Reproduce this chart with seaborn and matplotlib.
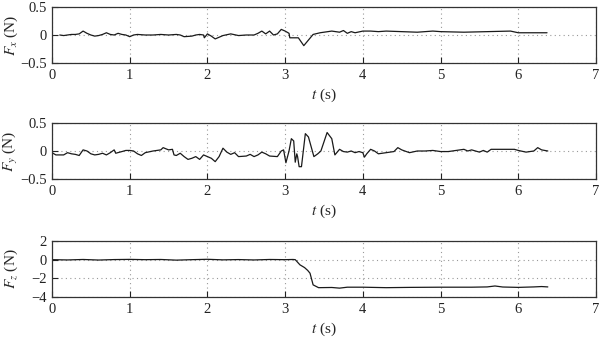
import numpy as np
import pandas as pd
import matplotlib
matplotlib.use("Agg")
import matplotlib.pyplot as plt
import seaborn as sns

# ---------------- data ----------------
t_fx = [0.10, 0.15, 0.20, 0.25, 0.30, 0.35, 0.40, 0.45, 0.50, 0.55, 0.60, 0.65, 0.70, 0.75,
        0.80, 0.85, 0.90, 0.95, 1.00, 1.05, 1.10, 1.20, 1.30, 1.40, 1.50, 1.60, 1.65, 1.70,
        1.80, 1.85, 1.90, 1.95, 1.96, 2.00, 2.05, 2.10, 2.15, 2.20, 2.30, 2.40, 2.50, 2.60,
        2.65, 2.70, 2.75, 2.80, 2.85, 2.90, 2.95, 3.00, 3.05, 3.06, 3.17, 3.24, 3.36, 3.45,
        3.50, 3.60, 3.70, 3.75, 3.80, 3.85, 3.90, 4.00, 4.10, 4.20, 4.30, 4.50, 4.70, 4.90,
        5.00, 5.30, 5.60, 5.90, 6.00, 6.20, 6.37]
fx = [0.00, -0.01, 0.00, 0.01, 0.01, 0.02, 0.07, 0.03, 0.00, -0.02, -0.01, 0.01, 0.04, 0.01,
      0.00, 0.03, 0.01, 0.00, -0.03, 0.00, 0.01, 0.00, 0.00, 0.01, 0.00, 0.01, 0.00, -0.03,
      -0.02, 0.00, 0.01, 0.00, -0.05, 0.02, -0.02, -0.07, -0.04, -0.01, 0.02, -0.01, 0.00, 0.00,
      0.03, 0.07, 0.02, 0.07, 0.00, 0.02, 0.10, 0.07, 0.03, -0.05, -0.05, -0.19, 0.01, 0.04,
      0.05, 0.07, 0.05, 0.08, 0.03, 0.06, 0.04, 0.07, 0.07, 0.06, 0.07, 0.06, 0.05, 0.07,
      0.06, 0.05, 0.06, 0.07, 0.04, 0.04, 0.04]

t_fy = [0.00, 0.05, 0.10, 0.15, 0.20, 0.25, 0.30, 0.35, 0.40, 0.45, 0.50, 0.55, 0.60, 0.65,
        0.70, 0.75, 0.80, 0.82, 0.90, 0.95, 1.00, 1.05, 1.10, 1.15, 1.20, 1.30, 1.40, 1.43,
        1.50, 1.55, 1.57, 1.60, 1.65, 1.70, 1.75, 1.80, 1.85, 1.90, 1.95, 2.00, 2.05, 2.10,
        2.15, 2.20, 2.25, 2.30, 2.35, 2.40, 2.50, 2.55, 2.60, 2.65, 2.70, 2.75, 2.80, 2.90,
        2.95, 2.98, 3.01, 3.05, 3.08, 3.11, 3.13, 3.15, 3.16, 3.18, 3.21, 3.26, 3.30, 3.37,
        3.42, 3.46, 3.54, 3.60, 3.64, 3.70, 3.75, 3.80, 3.85, 3.90, 3.95, 4.00, 4.02, 4.05,
        4.10, 4.15, 4.20, 4.30, 4.40, 4.45, 4.50, 4.60, 4.70, 4.80, 4.90, 5.00, 5.10, 5.20,
        5.30, 5.35, 5.40, 5.50, 5.55, 5.60, 5.65, 5.80, 5.95, 6.00, 6.10, 6.20, 6.25, 6.30,
        6.38]
fy = [-0.03, -0.07, -0.07, -0.07, -0.03, -0.05, -0.06, -0.08, 0.02, 0.00, -0.05, -0.07, -0.06, -0.04,
      -0.07, -0.03, 0.02, -0.04, -0.01, 0.01, 0.01, 0.00, -0.05, -0.08, -0.03, 0.00, 0.02, 0.06,
      0.02, 0.03, -0.07, -0.08, -0.04, -0.10, -0.15, -0.13, -0.10, -0.15, -0.07, -0.10, -0.13, -0.19,
      -0.10, 0.05, -0.02, -0.06, -0.03, -0.10, -0.09, -0.06, -0.10, -0.07, -0.02, -0.05, -0.09, -0.10,
      0.00, 0.02, -0.21, 0.00, 0.22, 0.18, -0.20, -0.05, -0.10, -0.28, -0.28, 0.31, 0.25, -0.10,
      -0.05, 0.00, 0.33, 0.22, -0.07, 0.03, -0.01, -0.02, 0.00, -0.03, -0.01, -0.03, -0.11, -0.05,
      0.03, 0.00, -0.05, -0.03, -0.01, 0.06, 0.02, -0.03, 0.00, 0.00, 0.01, -0.01, -0.01, 0.01,
      0.03, 0.00, 0.02, -0.02, 0.01, -0.02, 0.03, 0.03, 0.03, 0.01, -0.02, 0.00, 0.06, 0.02,
      0.00]

t_fz = [0.00, 0.20, 0.40, 0.60, 0.80, 1.00, 1.20, 1.40, 1.60, 1.80, 2.00, 2.20, 2.40, 2.60,
        2.80, 3.00, 3.10, 3.13, 3.19, 3.25, 3.29, 3.32, 3.36, 3.43, 3.60, 3.70, 3.80, 4.00,
        4.30, 4.60, 5.00, 5.40, 5.60, 5.70, 5.80, 6.00, 6.20, 6.30, 6.38]
fz = [0.00, -0.03, 0.02, -0.04, 0.01, 0.03, 0.00, 0.02, -0.05, 0.00, 0.04, -0.02, 0.01, -0.03,
      0.02, 0.00, 0.02, 0.00, -0.55, -0.85, -1.15, -1.45, -2.70, -3.00, -2.98, -3.05, -2.95, -2.95,
      -3.00, -2.97, -2.95, -2.95, -2.92, -2.82, -2.93, -2.97, -2.92, -2.88, -2.92]

x_ticks = [0, 1, 2, 3, 4, 5, 6, 7]
y_ticks_xy = [-0.5, 0, 0.5]
y_labels_xy = ["\u22120.5", "0", "0.5"]
y_ticks_z = [-4, -2, 0, 2]
y_labels_z = ["\u22124", "\u22122", "0", "2"]
y_titles = ["$F_x$ (N)", "$F_y$ (N)", "$F_z$ (N)"]
x_title = "$t$ (s)"

# ---------------- style ----------------
sns.set_theme(style="white")
plt.rcParams["font.family"] = ["Liberation Serif", "DejaVu Serif"]
plt.rcParams["mathtext.fontset"] = "stix"
plt.rcParams["axes.unicode_minus"] = True

fig = plt.figure(figsize=(6, 3.4), dpi=100)
L, W, H = 52 / 600, 544 / 600, 56 / 340
tops = [7, 123, 241]

panels = [
    (t_fx, fx, y_ticks_xy, y_labels_xy, (-0.5, 0.5)),
    (t_fy, fy, y_ticks_xy, y_labels_xy, (-0.5, 0.5)),
    (t_fz, fz, y_ticks_z, y_labels_z, (-4, 2)),
]

for i, (tt, yy, yt, yl, ylim) in enumerate(panels):
    top = tops[i]
    ax = fig.add_axes([L, 1 - (top + 56) / 340, W, H])
    df = pd.DataFrame({"t": tt, "v": yy})
    sns.lineplot(data=df, x="t", y="v", ax=ax, color="#1a1a1a", linewidth=0.9,
                 estimator=None, sort=False)
    ax.set_xlim(0, 7)
    ax.set_ylim(*ylim)
    ax.set_xticks(x_ticks)
    ax.set_xticklabels([str(v) for v in x_ticks])
    ax.set_yticks(yt)
    ax.set_yticklabels(yl)
    ax.grid(True, linestyle=(0, (1, 3)), color="#999999", linewidth=0.8)
    for s in ax.spines.values():
        s.set_visible(True)
        s.set_color("#333333")
        s.set_linewidth(0.9)
    ax.tick_params(direction="in", length=4, width=0.8, colors="#222222",
                   labelsize=10.5, pad=4, bottom=True, left=True)
    ax.set_ylabel(y_titles[i], fontsize=11)
    ax.set_xlabel(x_title, fontsize=11, labelpad=4)
    ax.yaxis.set_label_coords(-0.058, 0.5)

fig.savefig("out.png", dpi=100)
